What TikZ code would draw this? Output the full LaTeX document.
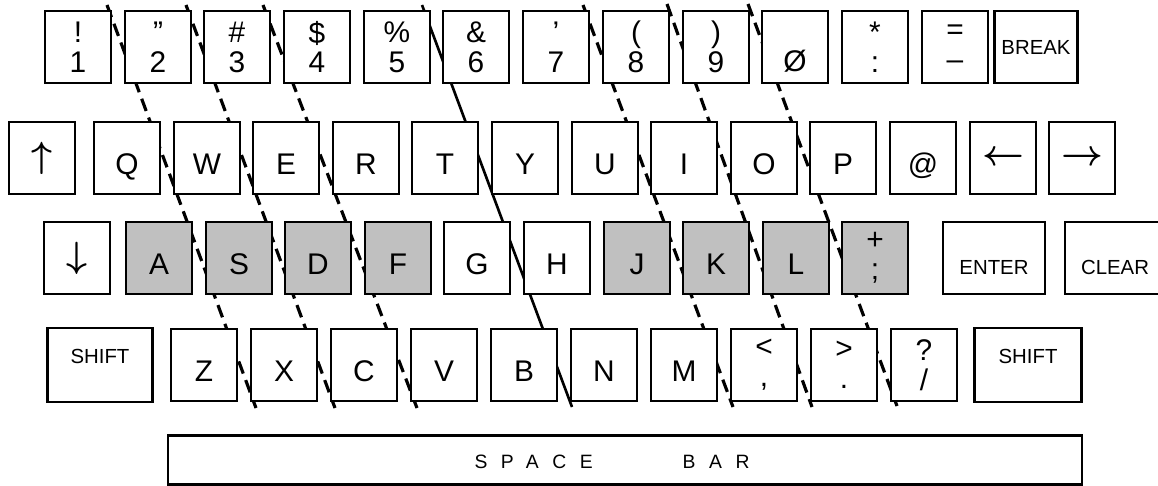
\documentclass[tikz,border=0pt]{standalone}
\usepackage{fontspec}
\setmainfont{Liberation Sans}
\newfontfamily\spacedfont[LetterSpace=70]{Liberation Sans}
\usepackage{xcolor}
\usepackage{tikz}
\definecolor{homegray}{RGB}{192, 192, 192}
\tikzstyle{keybox} = [rectangle, draw=black, fill=white, line width=1.2pt, minimum width=1.32cm, minimum height=1.44cm, inner sep=0pt, align=center, font=\fontsize{17}{17}\selectfont]
\tikzstyle{homekey} = [keybox, fill=homegray]
\tikzstyle{lowlabel} = [text height=0.7cm, text depth=0.05cm]
\tikzstyle{arrowkey} = [keybox, font=\fontsize{20}{20}\selectfont\boldmath]
\tikzstyle{wordkey} = [keybox, font=\fontsize{11.6}{13}\selectfont]
\tikzstyle{zoneline} = [line width=1.8pt, dash pattern=on 0.26cm off 0.14cm]
\tikzstyle{handline} = [line width=1.5pt]

\begin{document}
\begin{tikzpicture}[x=0.02cm, y=-0.02cm]
    \useasboundingbox (0,0) rectangle (1158,486);

    % Finger zones
    \coordinate (zone1top) at (107,5);   \coordinate (zone1bot) at (256,408);
    \coordinate (zone2top) at (186,5);   \coordinate (zone2bot) at (335,408);
    \coordinate (zone3top) at (263,5);   \coordinate (zone3bot) at (417,408);
    \coordinate (handtop) at (422,5);    \coordinate (handbot) at (572,407);
    \coordinate (zone5top) at (583,5);   \coordinate (zone5bot) at (733,407);
    \coordinate (zone6top) at (667,4);   \coordinate (zone6bot) at (812,407);
    \coordinate (zone7top) at (748,4);   \coordinate (zone7bot) at (897,406);
    \draw[zoneline] (zone1top) -- (zone1bot);
    \draw[zoneline] (zone2top) -- (zone2bot);
    \draw[zoneline] (zone3top) -- (zone3bot);
    \draw[handline] (handtop) -- (handbot);
    \draw[zoneline] (zone5top) -- (zone5bot);
    \draw[zoneline] (zone6top) -- (zone6bot);
    \draw[zoneline] (zone7top) -- (zone7bot);

    % Row 1: numbers
    \node[keybox] (key1) at (78,47) {!\\1};
    \node[keybox] (key2) at (158,47) {”\\2};
    \node[keybox] (key3) at (237,47) {\#\\3};
    \node[keybox] (key4) at (317,47) {\$\\4};
    \node[keybox] (key5) at (397,47) {\%\\5};
    \node[keybox] (key6) at (476,47) {\&\\6};
    \node[keybox] (key7) at (556,47) {’\\7};
    \node[keybox] (key8) at (636,47) {(\\8};
    \node[keybox] (key9) at (716,47) {)\\9};
    \node[keybox] (key0) at (795,47) {\vphantom{!}\\Ø};
    \node[keybox] (colon) at (875,47) {*\\:};
    \node[keybox] (minus) at (955,47) {=\\–};
    \node[wordkey, minimum width=1.66cm] (break) at (1036,47) {BREAK};

    % Row 2
    \node[arrowkey] (up) at (42,158) {$\uparrow$};
    \node[keybox, lowlabel] (q) at (127,158) {Q};
    \node[keybox, lowlabel] (w) at (207,158) {W};
    \node[keybox, lowlabel] (e) at (286,158) {E};
    \node[keybox, lowlabel] (r) at (366,158) {R};
    \node[keybox, lowlabel] (t) at (445,158) {T};
    \node[keybox, lowlabel] (y) at (525,158) {Y};
    \node[keybox, lowlabel] (u) at (605,158) {U};
    \node[keybox, lowlabel] (i) at (684,158) {I};
    \node[keybox, lowlabel] (o) at (764,158) {O};
    \node[keybox, lowlabel] (p) at (843,158) {P};
    \node[keybox, lowlabel] (at) at (923,158) {@};
    \node[arrowkey] (left) at (1003,158) {$\leftarrow$};
    \node[arrowkey] (right) at (1082,158) {$\rightarrow$};

    % Row 3: home row
    \node[arrowkey] (down) at (77,258) {$\downarrow$};
    \node[homekey, lowlabel] (a) at (159,258) {A};
    \node[homekey, lowlabel] (s) at (239,258) {S};
    \node[homekey, lowlabel] (d) at (318,258) {D};
    \node[homekey, lowlabel] (f) at (398,258) {F};
    \node[keybox, lowlabel] (g) at (477,258) {G};
    \node[keybox, lowlabel] (h) at (557,258) {H};
    \node[homekey, lowlabel] (j) at (637,258) {J};
    \node[homekey, lowlabel] (k) at (716,258) {K};
    \node[homekey, lowlabel] (l) at (796,258) {L};
    \node[homekey] (semi) at (875,258) {+\\;};
    \node[wordkey, lowlabel, minimum width=2.04cm] (enter) at (994,258) {ENTER};
    \node[wordkey, lowlabel, minimum width=2cm] (clear) at (1115,258) {CLEAR};

    % Row 4
    \node[wordkey, minimum width=2.1cm, minimum height=1.48cm, text height=0.3cm, text depth=0.36cm] (lshift) at (100,365) {SHIFT};
    \node[keybox, lowlabel] (z) at (204,365) {Z};
    \node[keybox, lowlabel] (x) at (284,365) {X};
    \node[keybox, lowlabel] (c) at (364,365) {C};
    \node[keybox, lowlabel] (v) at (444,365) {V};
    \node[keybox, lowlabel] (b) at (524,365) {B};
    \node[keybox, lowlabel] (n) at (604,365) {N};
    \node[keybox, lowlabel] (m) at (684,365) {M};
    \node[keybox] (comma) at (764,365) {<\\,};
    \node[keybox] (period) at (844,365) {>\\.};
    \node[keybox] (slash) at (924,365) {?\\/};
    \node[wordkey, minimum width=2.14cm, minimum height=1.48cm, text height=0.3cm, text depth=0.36cm] (rshift) at (1028,365) {SHIFT};

    % Space bar
    \node[wordkey, minimum width=18.3cm, minimum height=0.98cm] (space) at (625,460) {};
    \node[font=\fontsize{11}{12}\spacedfont] (spacetext) at (612,462) {SPACE\hspace{1.8cm}BAR};
\end{tikzpicture}
\end{document}
